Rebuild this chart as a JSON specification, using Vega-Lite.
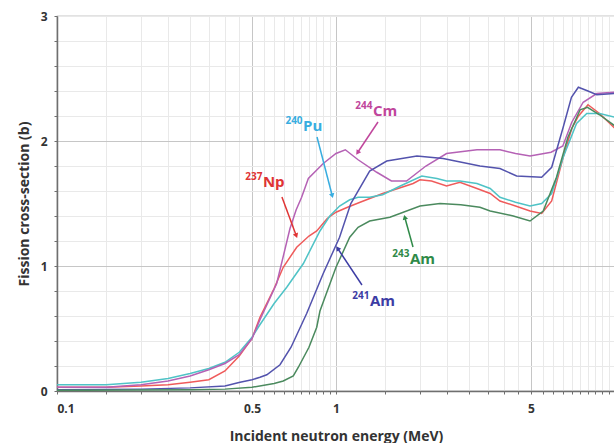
{
  "$schema": "https://vega.github.io/schema/vega-lite/v6.json",
  "width": 558,
  "height": 375,
  "autosize": "none",
  "padding": {"left": 57, "top": 16, "right": 0, "bottom": 52},
  "background": "white",
  "config": {
    "font": "Open Sans",
    "view": {"stroke": "#8a8a8a", "strokeWidth": 1.2},
    "axis": {
      "labelFont": "Open Sans",
      "labelFontWeight": "bold",
      "labelFontSize": 12,
      "labelColor": "#333333",
      "titleFont": "Open Sans",
      "titleFontWeight": "bold",
      "titleFontSize": 14,
      "titleColor": "#333333",
      "domainColor": "#6f6f6f",
      "domainWidth": 1.5,
      "tickColor": "#6f6f6f",
      "tickSize": 3,
      "gridWidth": 1
    }
  },
  "datasets": {
    "curves": [
      {"series": "237Np", "E": 0.1, "s": 0.03},
      {"series": "237Np", "E": 0.15, "s": 0.03},
      {"series": "237Np", "E": 0.2, "s": 0.04},
      {"series": "237Np", "E": 0.25, "s": 0.05},
      {"series": "237Np", "E": 0.3, "s": 0.07},
      {"series": "237Np", "E": 0.35, "s": 0.09},
      {"series": "237Np", "E": 0.4, "s": 0.16},
      {"series": "237Np", "E": 0.45, "s": 0.28},
      {"series": "237Np", "E": 0.5, "s": 0.42},
      {"series": "237Np", "E": 0.534, "s": 0.59},
      {"series": "237Np", "E": 0.6, "s": 0.82},
      {"series": "237Np", "E": 0.647, "s": 0.99},
      {"series": "237Np", "E": 0.723, "s": 1.15},
      {"series": "237Np", "E": 0.8, "s": 1.24},
      {"series": "237Np", "E": 0.853, "s": 1.28},
      {"series": "237Np", "E": 0.93, "s": 1.38},
      {"series": "237Np", "E": 1.0, "s": 1.43},
      {"series": "237Np", "E": 1.1, "s": 1.47},
      {"series": "237Np", "E": 1.22, "s": 1.51},
      {"series": "237Np", "E": 1.47, "s": 1.58},
      {"series": "237Np", "E": 1.89, "s": 1.66},
      {"series": "237Np", "E": 2.0, "s": 1.69},
      {"series": "237Np", "E": 2.2, "s": 1.68},
      {"series": "237Np", "E": 2.49, "s": 1.64},
      {"series": "237Np", "E": 2.78, "s": 1.67},
      {"series": "237Np", "E": 3.2, "s": 1.62},
      {"series": "237Np", "E": 3.57, "s": 1.58},
      {"series": "237Np", "E": 3.87, "s": 1.52},
      {"series": "237Np", "E": 4.4, "s": 1.48},
      {"series": "237Np", "E": 4.96, "s": 1.44},
      {"series": "237Np", "E": 5.46, "s": 1.42},
      {"series": "237Np", "E": 5.93, "s": 1.52},
      {"series": "237Np", "E": 6.52, "s": 1.87},
      {"series": "237Np", "E": 7.0, "s": 2.1},
      {"series": "237Np", "E": 7.4, "s": 2.2},
      {"series": "237Np", "E": 8.0, "s": 2.29},
      {"series": "237Np", "E": 8.8, "s": 2.22},
      {"series": "237Np", "E": 10.0, "s": 2.1},

      {"series": "240Pu", "E": 0.1, "s": 0.05},
      {"series": "240Pu", "E": 0.15, "s": 0.05},
      {"series": "240Pu", "E": 0.2, "s": 0.07},
      {"series": "240Pu", "E": 0.25, "s": 0.1},
      {"series": "240Pu", "E": 0.3, "s": 0.14},
      {"series": "240Pu", "E": 0.35, "s": 0.18},
      {"series": "240Pu", "E": 0.4, "s": 0.23},
      {"series": "240Pu", "E": 0.45, "s": 0.31},
      {"series": "240Pu", "E": 0.5, "s": 0.43},
      {"series": "240Pu", "E": 0.53, "s": 0.52},
      {"series": "240Pu", "E": 0.6, "s": 0.7},
      {"series": "240Pu", "E": 0.666, "s": 0.83},
      {"series": "240Pu", "E": 0.764, "s": 1.02},
      {"series": "240Pu", "E": 0.876, "s": 1.28},
      {"series": "240Pu", "E": 0.95, "s": 1.4},
      {"series": "240Pu", "E": 1.03, "s": 1.48},
      {"series": "240Pu", "E": 1.12, "s": 1.53},
      {"series": "240Pu", "E": 1.2, "s": 1.55},
      {"series": "240Pu", "E": 1.32, "s": 1.55},
      {"series": "240Pu", "E": 1.47, "s": 1.57},
      {"series": "240Pu", "E": 1.7, "s": 1.64},
      {"series": "240Pu", "E": 2.03, "s": 1.72},
      {"series": "240Pu", "E": 2.3, "s": 1.7},
      {"series": "240Pu", "E": 2.49, "s": 1.68},
      {"series": "240Pu", "E": 2.78, "s": 1.68},
      {"series": "240Pu", "E": 3.2, "s": 1.66},
      {"series": "240Pu", "E": 3.57, "s": 1.62},
      {"series": "240Pu", "E": 3.87, "s": 1.55},
      {"series": "240Pu", "E": 4.4, "s": 1.51},
      {"series": "240Pu", "E": 4.96, "s": 1.48},
      {"series": "240Pu", "E": 5.46, "s": 1.5},
      {"series": "240Pu", "E": 5.93, "s": 1.58},
      {"series": "240Pu", "E": 6.52, "s": 1.87},
      {"series": "240Pu", "E": 7.28, "s": 2.14},
      {"series": "240Pu", "E": 7.92, "s": 2.22},
      {"series": "240Pu", "E": 8.81, "s": 2.22},
      {"series": "240Pu", "E": 10.0, "s": 2.19},

      {"series": "244Cm", "E": 0.1, "s": 0.03},
      {"series": "244Cm", "E": 0.15, "s": 0.03},
      {"series": "244Cm", "E": 0.2, "s": 0.05},
      {"series": "244Cm", "E": 0.25, "s": 0.08},
      {"series": "244Cm", "E": 0.3, "s": 0.12},
      {"series": "244Cm", "E": 0.35, "s": 0.17},
      {"series": "244Cm", "E": 0.4, "s": 0.22},
      {"series": "244Cm", "E": 0.45, "s": 0.29},
      {"series": "244Cm", "E": 0.5, "s": 0.42},
      {"series": "244Cm", "E": 0.534, "s": 0.57},
      {"series": "244Cm", "E": 0.613, "s": 0.86},
      {"series": "244Cm", "E": 0.684, "s": 1.3},
      {"series": "244Cm", "E": 0.72, "s": 1.45},
      {"series": "244Cm", "E": 0.753, "s": 1.55},
      {"series": "244Cm", "E": 0.796, "s": 1.7},
      {"series": "244Cm", "E": 0.9, "s": 1.82},
      {"series": "244Cm", "E": 1.0, "s": 1.9},
      {"series": "244Cm", "E": 1.08, "s": 1.93},
      {"series": "244Cm", "E": 1.2, "s": 1.85},
      {"series": "244Cm", "E": 1.4, "s": 1.75},
      {"series": "244Cm", "E": 1.58, "s": 1.68},
      {"series": "244Cm", "E": 1.79, "s": 1.68},
      {"series": "244Cm", "E": 2.1, "s": 1.8},
      {"series": "244Cm", "E": 2.49, "s": 1.9},
      {"series": "244Cm", "E": 3.2, "s": 1.93},
      {"series": "244Cm", "E": 3.87, "s": 1.93},
      {"series": "244Cm", "E": 4.4, "s": 1.9},
      {"series": "244Cm", "E": 4.96, "s": 1.88},
      {"series": "244Cm", "E": 5.9, "s": 1.91},
      {"series": "244Cm", "E": 6.5, "s": 1.96},
      {"series": "244Cm", "E": 7.0, "s": 2.15},
      {"series": "244Cm", "E": 7.69, "s": 2.31},
      {"series": "244Cm", "E": 8.6, "s": 2.38},
      {"series": "244Cm", "E": 10.0, "s": 2.39},

      {"series": "241Am", "E": 0.1, "s": 0.01},
      {"series": "241Am", "E": 0.2, "s": 0.015},
      {"series": "241Am", "E": 0.3, "s": 0.025},
      {"series": "241Am", "E": 0.4, "s": 0.04},
      {"series": "241Am", "E": 0.453, "s": 0.07},
      {"series": "241Am", "E": 0.5, "s": 0.09},
      {"series": "241Am", "E": 0.534, "s": 0.11},
      {"series": "241Am", "E": 0.565, "s": 0.13},
      {"series": "241Am", "E": 0.63, "s": 0.21},
      {"series": "241Am", "E": 0.69, "s": 0.35},
      {"series": "241Am", "E": 0.785, "s": 0.62},
      {"series": "241Am", "E": 0.9, "s": 0.94},
      {"series": "241Am", "E": 1.03, "s": 1.23},
      {"series": "241Am", "E": 1.13, "s": 1.5},
      {"series": "241Am", "E": 1.32, "s": 1.76},
      {"series": "241Am", "E": 1.52, "s": 1.84},
      {"series": "241Am", "E": 1.95, "s": 1.88},
      {"series": "241Am", "E": 2.42, "s": 1.86},
      {"series": "241Am", "E": 3.28, "s": 1.8},
      {"series": "241Am", "E": 3.87, "s": 1.78},
      {"series": "241Am", "E": 4.44, "s": 1.72},
      {"series": "241Am", "E": 5.46, "s": 1.71},
      {"series": "241Am", "E": 5.93, "s": 1.79},
      {"series": "241Am", "E": 6.52, "s": 2.11},
      {"series": "241Am", "E": 6.98, "s": 2.35},
      {"series": "241Am", "E": 7.39, "s": 2.43},
      {"series": "241Am", "E": 8.0, "s": 2.4},
      {"series": "241Am", "E": 8.6, "s": 2.37},
      {"series": "241Am", "E": 10.0, "s": 2.38},

      {"series": "243Am", "E": 0.1, "s": 0.005},
      {"series": "243Am", "E": 0.3, "s": 0.01},
      {"series": "243Am", "E": 0.4, "s": 0.015},
      {"series": "243Am", "E": 0.5, "s": 0.03},
      {"series": "243Am", "E": 0.6, "s": 0.06},
      {"series": "243Am", "E": 0.647, "s": 0.08},
      {"series": "243Am", "E": 0.703, "s": 0.12},
      {"series": "243Am", "E": 0.733, "s": 0.19},
      {"series": "243Am", "E": 0.8, "s": 0.35},
      {"series": "243Am", "E": 0.853, "s": 0.51},
      {"series": "243Am", "E": 0.876, "s": 0.64},
      {"series": "243Am", "E": 1.0, "s": 0.99},
      {"series": "243Am", "E": 1.12, "s": 1.23},
      {"series": "243Am", "E": 1.2, "s": 1.31},
      {"series": "243Am", "E": 1.32, "s": 1.36},
      {"series": "243Am", "E": 1.56, "s": 1.39},
      {"series": "243Am", "E": 2.0, "s": 1.48},
      {"series": "243Am", "E": 2.36, "s": 1.5},
      {"series": "243Am", "E": 2.8, "s": 1.49},
      {"series": "243Am", "E": 3.28, "s": 1.47},
      {"series": "243Am", "E": 3.57, "s": 1.44},
      {"series": "243Am", "E": 4.32, "s": 1.4},
      {"series": "243Am", "E": 4.96, "s": 1.36},
      {"series": "243Am", "E": 5.53, "s": 1.44},
      {"series": "243Am", "E": 6.17, "s": 1.71},
      {"series": "243Am", "E": 6.78, "s": 2.03},
      {"series": "243Am", "E": 7.5, "s": 2.25},
      {"series": "243Am", "E": 7.97, "s": 2.27},
      {"series": "243Am", "E": 8.8, "s": 2.21},
      {"series": "243Am", "E": 10.0, "s": 2.12}
    ],
    "notes": [
      {"series": "244Cm", "mass": "244", "el": "Cm", "E": 1.357, "s": 2.24},
      {"series": "240Pu", "mass": "240", "el": "Pu", "E": 0.762, "s": 2.12},
      {"series": "237Np", "mass": "237", "el": "Np", "E": 0.547, "s": 1.672},
      {"series": "241Am", "mass": "241", "el": "Am", "E": 1.324, "s": 0.72},
      {"series": "243Am", "mass": "243", "el": "Am", "E": 1.842, "s": 1.056}
    ],
    "arrows": [
      {"series": "244Cm", "E": 1.414, "s": 2.152, "E2": 1.199, "s2": 1.912},
      {"series": "240Pu", "E": 0.855, "s": 2.032, "E2": 0.968, "s2": 1.568},
      {"series": "237Np", "E": 0.64, "s": 1.552, "E2": 0.719, "s2": 1.248},
      {"series": "241Am", "E": 1.239, "s": 0.848, "E2": 1.017, "s2": 1.136},
      {"series": "243Am", "E": 1.888, "s": 1.152, "E2": 1.767, "s2": 1.384}
    ]
  },
  "encoding": {
    "x": {
      "field": "E",
      "type": "quantitative",
      "title": "Incident neutron energy (MeV)",
      "scale": {"type": "log", "domain": [0.1, 10], "nice": false},
      "axis": {
        "values": [0.1, 0.15, 0.2, 0.25, 0.3, 0.35, 0.4, 0.45, 0.5, 0.55, 0.6, 0.65, 0.7, 0.75, 0.8, 0.85, 0.9, 0.95, 1, 1.5, 2, 2.5, 3, 3.5, 4, 4.5, 5, 5.5, 6, 6.5, 7, 7.5, 8, 8.5, 9, 9.5, 10],
        "labelExpr": "datum.value == 0.1 ? '0.1' : datum.value == 0.5 ? '0.5' : datum.value == 1 ? '1' : datum.value == 5 ? '5' : ''",
        "labelPadding": 9,
        "titlePadding": 15,
        "gridColor": {"condition": {"test": "datum.value == 0.5 || datum.value == 1 || datum.value == 5", "value": "#c6c6c6"}, "value": "#e9e9e9"}
      }
    },
    "y": {
      "field": "s",
      "type": "quantitative",
      "title": "Fission cross-section (b)",
      "scale": {"domain": [0, 3], "nice": false},
      "axis": {
        "values": [0, 0.2, 0.4, 0.6, 0.8, 1, 1.2, 1.4, 1.6, 1.8, 2, 2.2, 2.4, 2.6, 2.8, 3],
        "labelExpr": "datum.value == 0 ? '0' : datum.value == 1 ? '1' : datum.value == 2 ? '2' : datum.value == 3 ? '3' : ''",
        "labelPadding": 7,
        "titlePadding": 9,
        "gridColor": {"condition": {"test": "datum.value == 1 || datum.value == 2", "value": "#c6c6c6"}, "value": "#e9e9e9"}
      }
    }
  },
  "layer": [
    {
      "data": {"name": "curves"},
      "mark": {"type": "line", "strokeWidth": 1.5, "clip": true},
      "encoding": {
        "color": {
          "field": "series",
          "type": "nominal",
          "scale": {"domain": ["237Np", "240Pu", "244Cm", "241Am", "243Am"], "range": ["#ef5b5b", "#4fc3c6", "#b562b5", "#5353ad", "#4b8a5e"]},
          "legend": null
        }
      }
    },
    {
      "data": {"name": "arrows"},
      "mark": {"type": "rule", "strokeWidth": 1.5},
      "encoding": {
        "x2": {"field": "E2"},
        "y2": {"field": "s2"},
        "color": {
          "field": "series",
          "type": "nominal",
          "scale": {"domain": ["237Np", "240Pu", "244Cm", "241Am", "243Am"], "range": ["#e03434", "#38ade0", "#c0469c", "#3c3ca4", "#2f8a48"]},
          "legend": null
        }
      }
    },
    {
      "data": {"name": "arrows"},
      "transform": [{"filter": "datum.series == '244Cm'"}],
      "mark": {"type": "point", "shape": "triangle", "filled": true, "size": 30, "angle": 213.7, "color": "#c0469c", "opacity": 1},
      "encoding": {
        "x": {"field": "E2", "type": "quantitative", "title": "Incident neutron energy (MeV)"},
        "y": {"field": "s2", "type": "quantitative", "title": "Fission cross-section (b)"}
      }
    },
    {
      "data": {"name": "arrows"},
      "transform": [{"filter": "datum.series == '240Pu'"}],
      "mark": {"type": "point", "shape": "triangle", "filled": true, "size": 30, "angle": 165.5, "color": "#38ade0", "opacity": 1},
      "encoding": {
        "x": {"field": "E2", "type": "quantitative", "title": "Incident neutron energy (MeV)"},
        "y": {"field": "s2", "type": "quantitative", "title": "Fission cross-section (b)"}
      }
    },
    {
      "data": {"name": "arrows"},
      "transform": [{"filter": "datum.series == '237Np'"}],
      "mark": {"type": "point", "shape": "triangle", "filled": true, "size": 30, "angle": 159.8, "color": "#e03434", "opacity": 1},
      "encoding": {
        "x": {"field": "E2", "type": "quantitative", "title": "Incident neutron energy (MeV)"},
        "y": {"field": "s2", "type": "quantitative", "title": "Fission cross-section (b)"}
      }
    },
    {
      "data": {"name": "arrows"},
      "transform": [{"filter": "datum.series == '241Am'"}],
      "mark": {"type": "point", "shape": "triangle", "filled": true, "size": 30, "angle": 326.3, "color": "#3c3ca4", "opacity": 1},
      "encoding": {
        "x": {"field": "E2", "type": "quantitative", "title": "Incident neutron energy (MeV)"},
        "y": {"field": "s2", "type": "quantitative", "title": "Fission cross-section (b)"}
      }
    },
    {
      "data": {"name": "arrows"},
      "transform": [{"filter": "datum.series == '243Am'"}],
      "mark": {"type": "point", "shape": "triangle", "filled": true, "size": 30, "angle": 344.6, "color": "#2f8a48", "opacity": 1},
      "encoding": {
        "x": {"field": "E2", "type": "quantitative", "title": "Incident neutron energy (MeV)"},
        "y": {"field": "s2", "type": "quantitative", "title": "Fission cross-section (b)"}
      }
    },
    {
      "data": {"name": "notes"},
      "mark": {"type": "text", "align": "left", "baseline": "middle", "fontSize": 15, "fontWeight": "bold", "font": "Open Sans"},
      "encoding": {
        "text": {"field": "el"},
        "color": {
          "field": "series",
          "type": "nominal",
          "scale": {"domain": ["237Np", "240Pu", "244Cm", "241Am", "243Am"], "range": ["#e03434", "#38ade0", "#c0469c", "#3c3ca4", "#2f8a48"]},
          "legend": null
        }
      }
    },
    {
      "data": {"name": "notes"},
      "mark": {"type": "text", "align": "right", "baseline": "middle", "fontSize": 10, "fontWeight": "bold", "font": "Open Sans", "dy": -5, "dx": -0.5},
      "encoding": {
        "text": {"field": "mass"},
        "color": {
          "field": "series",
          "type": "nominal",
          "scale": {"domain": ["237Np", "240Pu", "244Cm", "241Am", "243Am"], "range": ["#e03434", "#38ade0", "#c0469c", "#3c3ca4", "#2f8a48"]},
          "legend": null
        }
      }
    }
  ],
  "resolve": {"scale": {"color": "independent"}}
}
